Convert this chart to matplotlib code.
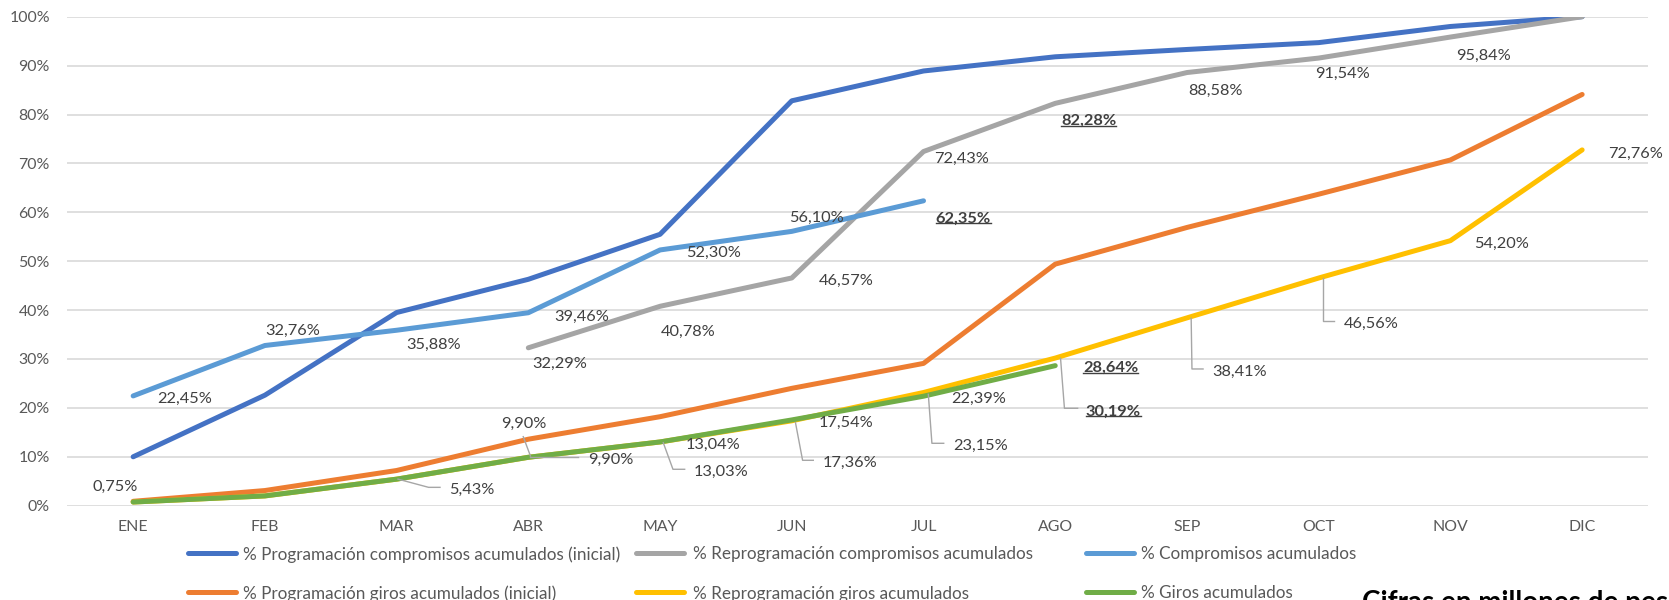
import numpy as np
import matplotlib
matplotlib.use('Agg')
import matplotlib.pyplot as plt
from matplotlib.lines import Line2D

plt.rcParams['font.family'] = ['Lato', 'DejaVu Sans']

nan = np.nan
months = ['ENE', 'FEB', 'MAR', 'ABR', 'MAY', 'JUN', 'JUL', 'AGO', 'SEP', 'OCT', 'NOV', 'DIC']

prog_comp = [10.0, 22.6, 39.5, 46.3, 55.5, 82.8, 88.9, 91.8, 93.3, 94.7, 98.0, 100.0]
reprog_comp = [nan, nan, nan, 32.29, 40.78, 46.57, 72.43, 82.28, 88.58, 91.54, 95.84, 100.0]
comp = [22.45, 32.76, 35.88, 39.46, 52.30, 56.10, 62.35, nan, nan, nan, nan, nan]
prog_giros = [0.9, 3.1, 7.2, 13.6, 18.2, 24.0, 29.1, 49.4, 56.9, 63.7, 70.7, 84.1]
reprog_giros = [0.75, 2.0, 5.43, 9.90, 13.03, 17.36, 23.15, 30.19, 38.41, 46.56, 54.20, 72.76]
giros = [0.75, 2.0, 5.43, 9.90, 13.04, 17.54, 22.39, 28.64, nan, nan, nan, nan]

names = ['% Programación compromisos acumulados (inicial)',
         '% Reprogramación compromisos acumulados',
         '% Compromisos acumulados',
         '% Programación giros acumulados (inicial)',
         '% Reprogramación giros acumulados',
         '% Giros acumulados']
colors = ['#4472C4', '#A5A5A5', '#5B9BD5', '#ED7D31', '#FFC000', '#70AD47']
data = {'pc': prog_comp, 'rc': reprog_comp, 'c': comp,
        'pg': prog_giros, 'rg': reprog_giros, 'g': giros}
keys = ['pc', 'rc', 'c', 'pg', 'rg', 'g']

W, H = 1669, 600
fig = plt.figure(figsize=(W / 100, H / 100), dpi=100)
L, R, T, B = 67.3, 1648.0, 16.7, 505.7
ax = fig.add_axes([L / W, 1 - B / H, (R - L) / W, (B - T) / H])

x = np.arange(len(months))
LW = 3.6
for k, name, col in zip(keys, names, colors):
    ax.plot(x, data[k], color=col, lw=LW, solid_capstyle='round',
            solid_joinstyle='round', label=name, zorder=3)

TICK_FS, LBL_FS, LEG_FS = 11.4, 11.8, 12.3

ax.set_xlim(-0.5, 11.5)
ax.set_ylim(0, 100)
ax.set_yticks(range(0, 101, 10))
ax.set_yticklabels([f'{t}%' for t in range(0, 101, 10)])
ax.set_xticks(x)
ax.set_xticklabels(months)
ax.tick_params(length=0, colors='#595959', labelsize=TICK_FS)
ax.tick_params(axis='y', pad=12.5)
ax.tick_params(axis='x', pad=10.5)
ax.grid(axis='y', color='#D9D9D9', lw=1.2)
ax.set_axisbelow(True)
for s in ax.spines.values():
    s.set_visible(False)

LBL = '#404040'
LEAD = '#A6A6A6'
# (series, month idx, ha, dx px, dy px (down), bold/underline, leader [(dx,dy),...])
labels = [
    ('c', 0, 'left', 24, 1.4, False, None),
    ('c', 1, 'center', 28, -16.5, False, None),
    ('c', 2, 'center', 37, 13, False, None),
    ('c', 3, 'left', 26, 2.3, False, None),
    ('c', 4, 'left', 26, 1.7, False, None),
    ('c', 5, 'center', 25, -14.7, False, None),
    ('c', 6, 'left', 12, 16, True, None),
    ('rc', 3, 'center', 31, 14.5, False, None),
    ('rc', 4, 'center', 28, 23.7, False, None),
    ('rc', 5, 'left', 27, 1.3, False, None),
    ('rc', 6, 'left', 11, 6, False, None),
    ('rc', 7, 'left', 6, 16, True, None),
    ('rc', 8, 'center', 29, 17, False, None),
    ('rc', 9, 'center', 23.5, 14, False, None),
    ('rc', 10, 'center', 33, 17, False, None),
    ('g', 0, 'center', -18, -17, False, None),
    ('rg', 2, 'left', 52.4, 9.2, False, [(1.4, 0), (32, 8.2), (43.4, 8.2)]),
    ('g', 3, 'center', -5, -34.6, False, [(-5.1, -20.6), (2.1, -1.3)]),
    ('rg', 3, 'left', 59.7, 1, False, [(2.1, -0.3), (49.2, -0.3)]),
    ('g', 4, 'left', 26, 1.5, False, None),
    ('rg', 4, 'left', 33.6, 28.7, False, [(3.2, 0.7), (12.9, 27.3), (24.6, 27.3)]),
    ('g', 5, 'left', 27, 1.8, False, None),
    ('rg', 5, 'left', 31.3, 40.9, False, [(3.7, 1.9), (10.8, 39.5), (21.5, 39.5)]),
    ('g', 6, 'left', 28, 1.1, False, None),
    ('rg', 6, 'left', 30.2, 51.8, False, [(4.8, 1.8), (8.4, 50.8), (20.2, 50.8)]),
    ('g', 7, 'left', 28, 1, True, None),
    ('rg', 7, 'left', 30.6, 51.9, True, [(5.3, 0.2), (9.2, 50.2), (22.4, 50.2)]),
    ('rg', 8, 'left', 25, 52.8, False, [(4.2, 0.4), (5, 51.1), (16.1, 51.1)]),
    ('rg', 9, 'left', 25.5, 44.7, False, [(4, 0.3), (4, 43), (15.5, 43)]),
    ('rg', 10, 'left', 24, 1.6, False, None),
    ('rg', 11, 'left', 26, 2, False, None),
]

inv_ax = ax.transAxes.inverted()
underlined = []
for k, i, ha, dx, dy, bold, leader in labels:
    v = data[k][i]
    txt = f'{v:.2f}'.replace('.', ',') + '%'
    t = ax.annotate(txt, xy=(i, v), xytext=(dx, -dy), textcoords='offset pixels',
                    ha=ha, va='center_baseline', fontsize=LBL_FS, color=LBL,
                    fontweight='bold' if bold else 'normal', zorder=5,
                    annotation_clip=False)
    if bold:
        underlined.append(t)
    if leader:
        X, Y = ax.transData.transform((i, v))
        pts = np.array([(X + a, Y - b) for a, b in leader])
        pa = inv_ax.transform(pts)
        ax.add_line(Line2D(pa[:, 0], pa[:, 1], transform=ax.transAxes,
                           color=LEAD, lw=1.0, zorder=4))

# legend (manual placement to mimic the two-row layout)
leg_cols = [(185.7, 243.0), (633.6, 693.0), (1083.0, 1141.0)]
leg_rows = [553.0, 592.0]
for n, (name, col) in enumerate(zip(names, colors)):
    r, c = divmod(n, 3)
    hx, tx = leg_cols[c]
    yy = 1 - leg_rows[r] / H
    fig.add_artist(Line2D([(hx + 2.5) / W, (hx + 50.5) / W], [yy, yy], color=col,
                          lw=LW, solid_capstyle='round', transform=fig.transFigure))
    fig.text(tx / W, yy, name, ha='left', va='center_baseline', fontsize=LEG_FS,
             color='#595959')

fig.text(1361.7 / W, 1 - 590 / H, 'Cifras en millones de pesos', ha='left', va='top',
         fontsize=20, fontweight='bold', color='black')

fig.canvas.draw()
rend = fig.canvas.get_renderer()
inv_fig = fig.transFigure.inverted()
for t in underlined:
    bb = t.get_window_extent(rend)
    y0 = bb.y0 + 2.0
    p = inv_fig.transform([(bb.x0, y0), (bb.x1, y0)])
    fig.add_artist(Line2D(p[:, 0], p[:, 1], color=LBL, lw=1.0, transform=fig.transFigure))

fig.savefig('out.png', dpi=100)
